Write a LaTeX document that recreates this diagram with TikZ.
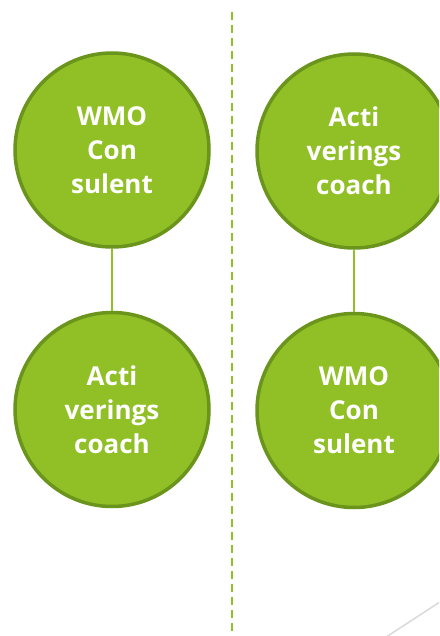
\documentclass[tikz,border=0pt]{standalone}
\usepackage{fontspec}
\setmainfont{Open Sans}
\usetikzlibrary{positioning}

\definecolor{rolgroen}{HTML}{90C026}
\definecolor{randgroen}{HTML}{6A941C}
\definecolor{lijngrijs}{HTML}{D9D9D9}

\tikzset{
	rol/.style={circle, draw=randgroen, fill=rolgroen, line width=3.5pt,
		minimum size=194pt, inner sep=0pt, align=center, text=white,
		font=\fontsize{26}{34}\selectfont\bfseries},
	verbinding/.style={draw=rolgroen, line width=2pt}
}

\begin{document}
\begin{tikzpicture}[x=1pt, y=-1pt, node distance=62pt]
			\clip (0,0) rectangle (439,636);
			\draw[lijngrijs, line width=1.5pt] (380,641) -- (446,598);
			\draw[rolgroen, line width=2pt, dash pattern=on 8pt off 5pt] (232,12) -- (232,636);
			% linker kolom
			\node[rol] (wmoL) at (112,150) {WMO\\Con\\sulent};
			\node[rol, below=of wmoL] (coachL) {Acti\\verings\\coach};
			% rechter kolom
			\node[rol] (coachR) at (354,151) {Acti\\verings\\coach};
			\node[rol, below=of coachR] (wmoR) {WMO\\Con\\sulent};
			\draw[verbinding] (wmoL) -- (coachL);
			\draw[verbinding] (coachR) -- (wmoR);
\end{tikzpicture}
\end{document}
